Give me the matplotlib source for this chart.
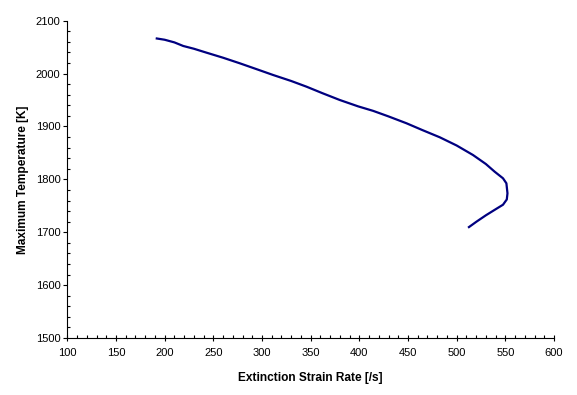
import matplotlib
matplotlib.use("Agg")
import matplotlib.pyplot as plt
from matplotlib.ticker import MultipleLocator

plt.rcParams['font.family'] = ['Liberation Sans', 'DejaVu Sans']

strain_rate = [190.8, 200.0, 210.0, 219.1, 230.0, 243.1, 260.0, 277.3, 295.0, 311.5,
               330.0, 345.8, 362.0, 380.0, 398.8, 414.2, 430.0, 448.5, 465.0, 482.7,
               500.0, 516.8, 530.0, 539.1, 547.6, 551.1, 552.2, 551.5, 547.6, 539.1,
               530.0, 520.3, 511.7]
max_temp = [2066.7, 2064.0, 2059.0, 2052.2, 2047.0, 2039.5, 2030.0, 2019.4, 2008.0, 1997.3,
            1986.0, 1975.2, 1963.0, 1950.0, 1938.0, 1929.5, 1919.0, 1906.0, 1893.0, 1879.5,
            1864.0, 1846.0, 1829.0, 1814.4, 1802.0, 1792.5, 1773.6, 1762.0, 1752.0, 1742.4,
            1732.0, 1719.9, 1708.5]

fig = plt.figure(figsize=(5.77, 3.95), dpi=100)
ax = fig.add_axes([67.3/577, (395-338)/395, (554-67.3)/577, (338-20.7)/395])

ax.plot(strain_rate, max_temp, color='#000080', linewidth=1.6, solid_capstyle='butt')

ax.set_xlim(100, 600)
ax.set_ylim(1500, 2100)
ax.xaxis.set_major_locator(MultipleLocator(50))
ax.xaxis.set_minor_locator(MultipleLocator(10))
ax.yaxis.set_major_locator(MultipleLocator(100))
ax.yaxis.set_minor_locator(MultipleLocator(20))

for s in ['top', 'right']:
    ax.spines[s].set_visible(False)
for s in ['left', 'bottom']:
    ax.spines[s].set_linewidth(0.8)
    ax.spines[s].set_color('black')

ax.tick_params(axis='y', which='major', direction='out', length=3.0, width=0.8, labelsize=8, pad=2)
ax.tick_params(axis='y', which='minor', direction='in', length=2.2, width=0.8)
ax.tick_params(axis='x', which='major', direction='inout', length=4.4, width=0.8, labelsize=8, pad=5)
ax.tick_params(axis='x', which='minor', direction='in', length=2.2, width=0.8)

ax.set_xlabel('Extinction Strain Rate [/s]', fontsize=8.6, fontweight='bold', labelpad=10)
ax.set_ylabel('Maximum Temperature [K]', fontsize=8.6, fontweight='bold', labelpad=5)

fig.savefig('out.png', dpi=100, facecolor='white')
